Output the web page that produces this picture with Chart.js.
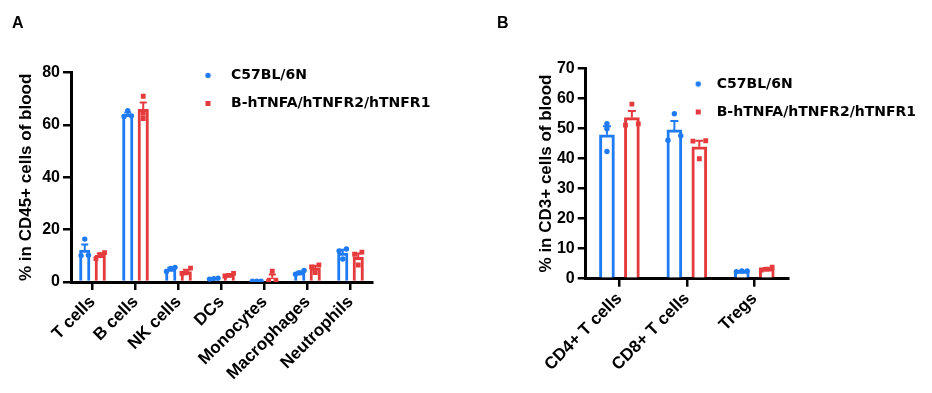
<!DOCTYPE html>
<html>
<head>
<meta charset="utf-8">
<script src="https://cdn.jsdelivr.net/npm/chart.js@4.4.0/dist/chart.umd.min.js"></script>
<style>
  body { margin: 0; background: #fff; width: 932px; height: 393px; position: relative; overflow: hidden; font-family: 'Liberation Sans', Arial, sans-serif; }
  canvas { position: absolute; top: 0; }
  .tag { position: absolute; top: 15px; font-size: 16px; line-height: 16px; font-weight: bold; color: #000; z-index: 2; }
</style>
</head>
<body>
<div class="tag" style="left:12px">A</div>
<div class="tag" style="left:497px">B</div>
<canvas id="chartA" width="466" height="393" style="left:0"></canvas>
<canvas id="chartB" width="466" height="393" style="left:466px"></canvas>
<script>
// groups
const groupNames = ["C57BL/6N", "B-hTNFA/hTNFR2/hTNFR1"];
const blue = "#1f7bf4";
const red = "#e53b3d";

// panel A - % in CD45+ cells
const cellsA = ["T cells", "B cells", "NK cells", "DCs", "Monocytes", "Macrophages", "Neutrophils"];
const meanA_wt = [12.2, 64.1, 4.9, 1.3, 0.3, 3.6, 11.1];
const semA_wt = [2.1, 0.7, 0.5, 0.15, 0.05, 0.4, 1.2];
const ptsA_wt = [[16.4, 10.1, 10.2], [65.5, 63.3, 63.5], [5.6, 5.2, 4.0], [1.5, 1.3, 1.1], [0.3, 0.3, 0.35], [4.4, 3.5, 3.0], [12.6, 11.9, 8.8]];
const meanA_hu = [10.2, 66.0, 4.0, 2.7, 1.6, 5.3, 9.4];
const semA_hu = [0.7, 2.6, 0.65, 0.3, 1.25, 0.9, 1.5];
const ptsA_hu = [[11.2, 10.5, 8.9], [71.0, 64.5, 62.5], [5.3, 3.5, 3.3], [3.3, 2.5, 2.3], [4.1, 0.5, 0.2], [6.5, 5.8, 3.6], [11.4, 10.6, 6.5]];
const yTicksA = [0, 20, 40, 60, 80];

// panel B - % in CD3+ cells
const cellsB = ["CD4+ T cells", "CD8+ T cells", "Tregs"];
const meanB_wt = [47.9, 49.5, 2.5];
const semB_wt = [2.8, 3.0, 0.1];
const ptsB_wt = [[51.6, 49.9, 42.3], [54.9, 47.6, 46.1], [2.3, 2.6, 2.6]];
const meanB_hu = [53.6, 43.9, 3.3];
const semB_hu = [2.2, 2.0, 0.25];
const ptsB_hu = [[58.1, 51.1, 51.5], [45.8, 45.9, 39.9], [2.9, 3.8, 3.2]];
const yTicksB = [0, 10, 20, 30, 40, 50, 60, 70];

Chart.defaults.font.family = "'Liberation Sans', Arial, sans-serif";
Chart.defaults.color = "#000";

// small marker images for the legend
function marker(kind, color) {
  const c = document.createElement("canvas");
  c.width = 7; c.height = 7;
  const g = c.getContext("2d");
  g.fillStyle = color;
  if (kind == "circle") { g.beginPath(); g.arc(3.5, 3.5, 2.7, 0, Math.PI * 2); g.fill(); }
  else { g.fillRect(1, 1, 5, 5); }
  return c;
}

// spread replicate dots sideways when they sit on top of each other
function spread(vals, thr, s2, s3) {
  const order = vals.map((v, i) => i).sort((a, b) => vals[a] - vals[b]);
  const off = vals.map(() => 0);
  let run = [order[0]];
  const flush = () => {
    const k = run.length;
    const s = k == 2 ? s2 : s3;
    run.forEach((idx, j) => { off[idx] = (j - (k - 1) / 2) * s; });
  };
  for (let i = 1; i < order.length; i++) {
    if (vals[order[i]] - vals[order[i - 1]] < thr) run.push(order[i]);
    else { flush(); run = [order[i]]; }
  }
  flush();
  return off;
}

function makeChart(id, p) {
  const shift = p.shift;
  const dots = (pts, side) => {
    const out = [];
    pts.forEach((vals, i) => {
      const off = spread(vals, p.thr, p.s2, p.s3);
      vals.forEach((v, j) => out.push({ x: i + side * shift + off[j], y: v }));
    });
    return out;
  };
  const bars = (means, side) => means.map((v, i) => ({ x: i + side * shift, y: v }));

  const sets = [
    { index: 2, mean: p.mean[0], sem: p.sem[0], color: blue },
    { index: 3, mean: p.mean[1], sem: p.sem[1], color: red }
  ];

  const errorBars = {
    id: "errorBars",
    beforeDatasetsDraw(chart) {
      const ctx = chart.ctx;
      const y = chart.scales.y;
      sets.forEach((set) => {
        chart.getDatasetMeta(set.index).data.forEach((bar, i) => {
          const base = y.getPixelForValue(set.mean[i]);
          const top = y.getPixelForValue(set.mean[i] + set.sem[i]);
          ctx.save();
          ctx.strokeStyle = set.color;
          ctx.lineWidth = 2;
          ctx.beginPath();
          ctx.moveTo(bar.x, base);
          ctx.lineTo(bar.x, top);
          ctx.moveTo(bar.x - p.cap, top);
          ctx.lineTo(bar.x + p.cap, top);
          ctx.stroke();
          ctx.restore();
        });
      });
    }
  };

  const placeLegend = {
    id: "placeLegend",
    afterLayout(chart) {
      const lg = chart.legend;
      lg.left = p.legend.left;
      lg.top = p.legend.top;
      lg.right = lg.left + 400;
      lg.bottom = lg.top + 100;
      lg.width = 400;
      lg.height = 100;
    }
  };

  const dotImg = marker("circle", blue);
  const sqImg = marker("rect", red);

  return new Chart(document.getElementById(id), {
    type: "bar",
    data: {
      labels: p.labels,
      datasets: [
        { type: "scatter", label: groupNames[0], data: dots(p.pts[0], -1), xAxisID: "x2", yAxisID: "y",
          pointStyle: "circle", pointRadius: 2.7, pointBackgroundColor: blue, pointBorderWidth: 0, order: 0 },
        { type: "scatter", label: groupNames[1], data: dots(p.pts[1], 1), xAxisID: "x2", yAxisID: "y",
          pointStyle: "rect", pointRadius: 3.4, pointBackgroundColor: red, pointBorderWidth: 0, order: 0 },
        { label: groupNames[0], data: bars(p.mean[0], -1), xAxisID: "x2", yAxisID: "y", backgroundColor: "#fff",
          borderColor: blue, borderWidth: 3, grouped: false, barThickness: p.barW, order: 1 },
        { label: groupNames[1], data: bars(p.mean[1], 1), xAxisID: "x2", yAxisID: "y", backgroundColor: "#fff",
          borderColor: red, borderWidth: 3, grouped: false, barThickness: p.barW, order: 1 }
      ]
    },
    options: {
      responsive: false,
      animation: false,
      events: [],
      layout: { padding: { left: 0, top: p.padTop, right: p.padRight, bottom: 0 } },
      scales: {
        x: {
          type: "category",
          offset: true,
          grid: { offset: false, drawOnChartArea: false, color: "#000", lineWidth: 2.5, tickLength: 8 },
          border: { width: 3, color: "#000" },
          ticks: { autoSkip: false, maxRotation: 45, minRotation: 45, padding: 2, color: "#000",
            font: { size: 17, weight: "bold" } },
          afterFit: (s) => { s.height = p.xHeight; }
        },
        x2: {
          type: "linear", display: false, offset: false, grid: { offset: false },
          min: -0.5, max: p.labels.length - 0.5
        },
        y: {
          min: p.yTicks[0],
          max: p.yTicks[p.yTicks.length - 1],
          afterBuildTicks: (s) => { s.ticks = p.yTicks.map((v) => ({ value: v })); },
          grid: { drawOnChartArea: false, color: "#000", lineWidth: 2.5, tickLength: 8 },
          border: { width: 3, color: "#000" },
          ticks: { color: "#000", padding: 3, font: { size: 16, weight: "bold" } },
          title: { display: true, text: p.yTitle, color: "#000", font: { size: 17, weight: "bold" },
            padding: { top: p.titlePad, bottom: 0 } },
          afterFit: (s) => { s.width = p.yWidth; }
        }
      },
      plugins: {
        tooltip: { enabled: false },
        legend: {
          position: "chartArea",
          align: "start",
          labels: {
            usePointStyle: true,
            pointStyleWidth: p.legend.box,
            boxHeight: 6,
            padding: 14,
            color: "#000",
            font: { family: "'DejaVu Sans', sans-serif", size: 14, weight: "bold" },
            generateLabels: () => [
              { text: groupNames[0], pointStyle: dotImg, fillStyle: blue, strokeStyle: blue, lineWidth: 0, hidden: false, fontColor: "#000", datasetIndex: 0 },
              { text: groupNames[1], pointStyle: sqImg, fillStyle: red, strokeStyle: red, lineWidth: 0, hidden: false, fontColor: "#000", datasetIndex: 1 }
            ]
          }
        }
      }
    },
    plugins: [errorBars, placeLegend]
  });
}

makeChart("chartA", {
  labels: cellsA,
  mean: [meanA_wt, meanA_hu],
  sem: [semA_wt, semA_hu],
  pts: [ptsA_wt, ptsA_hu],
  yTicks: yTicksA,
  yTitle: "% in CD45+ cells of blood",
  yWidth: 71, xHeight: 111, padTop: 72.7, padRight: 94, titlePad: 16,
  shift: 0.18, barW: 10.5, cap: 3.5,
  thr: 1.8, s2: 0.17, s3: 0.1,
  legend: { left: 178, top: 54.5, box: 32 }
});

makeChart("chartB", {
  labels: cellsB,
  mean: [meanB_wt, meanB_hu],
  sem: [semB_wt, semB_hu],
  pts: [ptsB_wt, ptsB_hu],
  yTicks: yTicksB,
  yTitle: "% in CD3+ cells of blood",
  yWidth: 119.7, xHeight: 114.3, padTop: 68.3, padRight: 144, titlePad: 70,
  shift: 0.185, barW: 15, cap: 4,
  thr: 1.6, s2: 0.19, s3: 0.08,
  legend: { left: 206.7, top: 63, box: 23 }
});
</script>
</body>
</html>
